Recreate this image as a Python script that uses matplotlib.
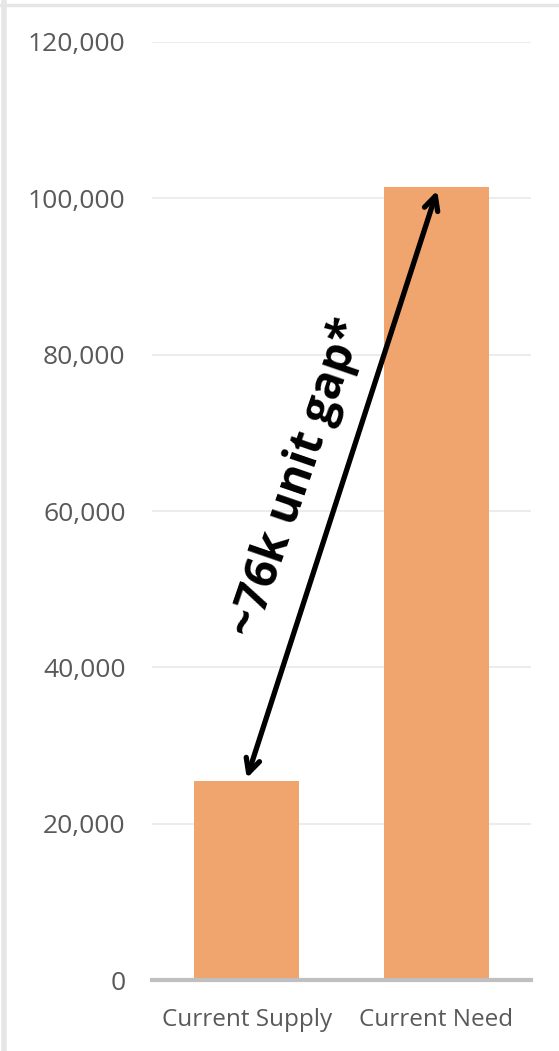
import matplotlib
matplotlib.use("Agg")
import matplotlib.pyplot as plt
from matplotlib import font_manager as fm
from matplotlib.ticker import FuncFormatter, MultipleLocator
from matplotlib.lines import Line2D

categories = ["Current Supply", "Current Need"]
values = [25500, 101500]
gap_label = "~76k unit gap*"
y_max = 120000
y_step = 20000

bar_color = "#F0A46E"
tick_color = "#595959"

# find an upright bold font file
bold_prop = None
for fam in ["Open Sans", "Lato", "Noto Sans", "Liberation Sans"]:
    for f in fm.fontManager.ttflist:
        fn = f.fname.lower()
        if f.name == fam and "italic" not in fn and "oblique" not in fn \
                and f.style == "normal" and ("bold" in fn and "semi" not in fn
                                              and "extra" not in fn):
            bold_prop = fm.FontProperties(fname=f.fname)
            break
    if bold_prop is not None:
        break
if bold_prop is None:
    bold_prop = fm.FontProperties(family="DejaVu Sans", weight="bold")

fig = plt.figure(figsize=(5.59, 10.51), dpi=100)
ax = fig.add_axes([152/559, 71/1051, 379/559, 938/1051])

x = list(range(len(categories)))
ax.bar(x, values, width=0.555, color=bar_color, zorder=2)

ax.set_xlim(-0.5, 1.5)
ax.set_ylim(0, y_max)
ax.yaxis.set_major_locator(MultipleLocator(y_step))
ax.yaxis.set_major_formatter(FuncFormatter(lambda v, p: f"{int(v):,}"))
ax.grid(axis="y", color="#EBEBEB", linewidth=1.3, zorder=0)
ax.set_axisbelow(True)

for s in ["top", "right", "left"]:
    ax.spines[s].set_visible(False)
ax.spines["bottom"].set_color("#BFBFBF")
ax.spines["bottom"].set_linewidth(3)
ax.spines["bottom"].set_zorder(3)

ax.set_xticks(x)
ax.set_xticklabels(categories)
ax.tick_params(axis="y", length=0, pad=19, labelsize=19, labelcolor=tick_color)
ax.tick_params(axis="x", length=0, pad=20, labelsize=17.5, labelcolor=tick_color)
for lab in ax.get_xticklabels() + ax.get_yticklabels():
    lab.set_fontfamily(["Open Sans", "DejaVu Sans"])

# double-headed arrow between bar tops
ax.annotate("", xy=(1.005, values[1] - 500), xytext=(0.0, values[0] + 300),
            arrowprops=dict(arrowstyle="<->,head_length=1.0,head_width=0.5",
                            color="black", lw=3.8, shrinkA=0, shrinkB=0),
            zorder=5)

bold_prop.set_size(33)
ax.text(0.27, 64300, gap_label, rotation=71, rotation_mode="anchor",
        ha="center", va="center", fontproperties=bold_prop,
        color="black", zorder=6)

# light frame strips at top and left (crop artifact in reference)
fig.add_artist(Line2D([0, 1], [1 - 5/1051, 1 - 5/1051], transform=fig.transFigure,
                      color="#E6E6E6", lw=2.5))
fig.add_artist(Line2D([4/559, 4/559], [0, 1], transform=fig.transFigure,
                      color="#E6E6E6", lw=4))

fig.savefig("out.png", dpi=100)
